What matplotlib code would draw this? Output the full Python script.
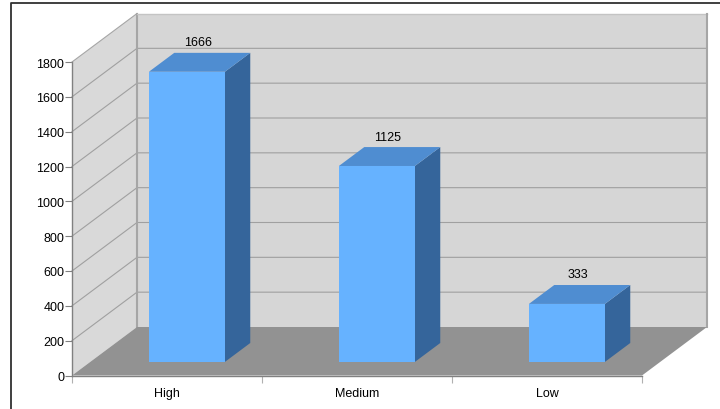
import matplotlib
matplotlib.use('Agg')
import matplotlib.pyplot as plt
from matplotlib.lines import Line2D
from matplotlib.patches import Polygon

plt.rcParams['font.family'] = ['Liberation Sans', 'DejaVu Sans']

categories = ['High', 'Medium', 'Low']
values = [1666, 1125, 333]
y_ticks = [0, 200, 400, 600, 800, 1000, 1200, 1400, 1600, 1800]

# depth of the fake 3d box, in data units
depth_x = 65 / 190
depth_y = 48.5 / 313.5 * 1800

# bars sit between these fractions of the depth
bar_d0 = 0.28
bar_d1 = 0.67
bar_left = 0.309
bar_width = 0.4

wall_color = '#d6d6d6'
side_wall_color = '#d9d9d9'
floor_color = '#929292'
grid_color = '#a0a0a0'
edge_color = '#a6a6a6'
front_color = '#66b2ff'
top_color = '#4f8dd1'
side_color = '#35659b'


def pt(x, y, d):
    return (x + d * depth_x, y + d * depth_y)


def face(ax, corners, color, z):
    ax.add_patch(Polygon(corners, closed=True, facecolor=color, edgecolor='none',
                         clip_on=False, zorder=z))


fig = plt.figure(figsize=(7.2, 4.1), dpi=100, facecolor='white')
ax = fig.add_axes([72 / 720, (410 - 376.5) / 410, 570 / 720, 313.5 / 410])
ax.set_xlim(0, len(categories))
ax.set_ylim(0, y_ticks[-1])
ax.patch.set_visible(False)

top = y_ticks[-1]
n = len(categories)

# walls and floor
face(ax, [pt(0, 0, 1), pt(n, 0, 1), pt(n, top, 1), pt(0, top, 1)], wall_color, 1)
face(ax, [pt(0, 0, 0), pt(0, 0, 1), pt(0, top, 1), pt(0, top, 0)], side_wall_color, 1)
face(ax, [pt(0, 0, 0), pt(n, 0, 0), pt(n, 0, 1), pt(0, 0, 1)], floor_color, 2)

# gridlines run along the side wall then across the back
for v in y_ticks[1:-1]:
    a = pt(0, v, 0)
    b = pt(0, v, 1)
    c = pt(n, v, 1)
    ax.plot([a[0], b[0], c[0]], [a[1], b[1], c[1]], color=grid_color, lw=0.8,
            clip_on=False, zorder=1.5, solid_joinstyle='miter')

# wall outline
a = pt(0, 0, 1)
b = pt(0, top, 1)
c = pt(n, top, 1)
d = pt(n, 0, 1)
ax.plot([a[0], b[0]], [a[1], b[1]], color=edge_color, lw=1.5, clip_on=False, zorder=1.6)
ax.plot([b[0], c[0]], [b[1], c[1]], color='#c4c4c4', lw=1.0, clip_on=False, zorder=1.6)
ax.plot([c[0], d[0]], [c[1], d[1]], color=edge_color, lw=1.5, clip_on=False, zorder=1.6)
e = pt(0, top, 0)
ax.plot([e[0], b[0]], [e[1], b[1]], color=edge_color, lw=0.8, clip_on=False, zorder=1.6)

# bars
for i, v in enumerate(values):
    x0 = i + bar_left
    x1 = x0 + bar_width
    face(ax, [pt(x1, 0, bar_d0), pt(x1, 0, bar_d1), pt(x1, v, bar_d1), pt(x1, v, bar_d0)],
         side_color, 3)
    face(ax, [pt(x0, v, bar_d0), pt(x1, v, bar_d0), pt(x1, v, bar_d1), pt(x0, v, bar_d1)],
         top_color, 3)
    face(ax, [pt(x0, 0, bar_d0), pt(x1, 0, bar_d0), pt(x1, v, bar_d0), pt(x0, v, bar_d0)],
         front_color, 4)
    # value label sits over the middle of the bar top
    lx, ly = pt((x0 + x1) / 2, v, (bar_d0 + bar_d1) / 2)
    ax.annotate(str(v), (lx, ly), xytext=(-2, 20), textcoords='offset pixels', ha='center',
                va='center', fontsize=9, color='black', zorder=5, annotation_clip=False)

# axes
for side in ['top', 'right']:
    ax.spines[side].set_visible(False)
for side in ['left', 'bottom']:
    ax.spines[side].set_color('#808080')
    ax.spines[side].set_linewidth(1.0)
    ax.spines[side].set_zorder(3)

ax.set_yticks(y_ticks)
ax.set_xticks(range(n + 1))
ax.set_xticklabels([])
ax.set_xticks([i + 0.5 for i in range(n)], minor=True)
ax.set_xticklabels(categories, minor=True)
ax.tick_params(axis='y', length=5, width=0.8, color='#808080', labelsize=9, pad=0.5)
ax.tick_params(axis='x', which='major', length=5, width=0.8, color='#b0b0b0')
ax.tick_params(axis='x', which='minor', length=0, labelsize=9, pad=8)

# outer frame of the screenshot
fig.add_artist(Line2D([10.5 / 720, 10.5 / 720, 1], [0, 1 - 4 / 410, 1 - 4 / 410],
                      color='#303030', lw=1.3))

fig.savefig('out.png', dpi=100)
